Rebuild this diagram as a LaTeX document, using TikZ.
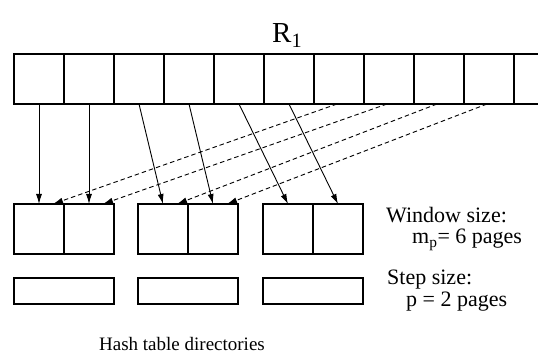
\documentclass[tikz,border=0pt]{standalone}
\usepackage{fontspec}
\setmainfont{Liberation Serif}
\usetikzlibrary{arrows.meta,positioning,calc}

\begin{document}
\begin{tikzpicture}[x=1pt,y=-1pt,
	page/.style={draw,line width=1.1pt,minimum width=50pt,minimum height=50pt,inner sep=0pt,outer sep=0pt},
	dirbox/.style={draw,line width=1.1pt,minimum width=100pt,minimum height=26pt,inner sep=0pt,outer sep=0pt},
	label/.style={anchor=base west,inner sep=0pt,font=\fontsize{22}{24}\selectfont},
	fetch/.style={line width=0.9pt,-{Latex[length=10pt,width=6pt]}},
	ahead/.style={fetch,dash pattern=on 4.5pt off 3pt}]
\useasboundingbox (0,0) rectangle (547,358);

% relation R1, one page per cell
\node[label,font=\fontsize{29}{30}\selectfont] (title) at (272,43) {R\textsubscript{1}};
\foreach \i in {0,...,9}
	\node[page] (r\i) at (39+50*\i,79) {};
\draw[line width=1.1pt] (r9.north east) -- ++(24,0);
\draw[line width=1.1pt] (r9.south east) -- ++(24,0);

% buffers and hash table directories
\foreach \g/\x in {0/14,1/138,2/263} {
	\node[page] (d\g-0) at (\x+25,229) {};
	\node[page,right=0pt of d\g-0] (d\g-1) {};
	\node[dirbox] (h\g) at (\x+50,291) {};
}

% pages read now and read ahead
\foreach \i/\g/\c in {0/0/0,1/0/1,2/1/0,3/1/1,4/2/0,5/2/1}
	\draw[fetch] (r\i.south) -- (d\g-\c.north);
\foreach \i/\g/\c in {6/0/0,7/0/1,8/1/0,9/1/1}
	\draw[ahead] ([xshift=-2pt]r\i.south) -- ([xshift=-11pt]d\g-\c.north east);

% window and step
\node[label] (win) at (386,223) {Window size:};
\node[label] (mp) at (412,244) {m\textsubscript{p}= 6 pages};
\node[label] (stepsz) at (387,285) {Step size:};
\node[label] (pp) at (406,307) {p = 2 pages};
\node[label,anchor=base,font=\fontsize{19}{21}\selectfont] (hash) at (182,351) {Hash table directories};
\end{tikzpicture}
\end{document}
